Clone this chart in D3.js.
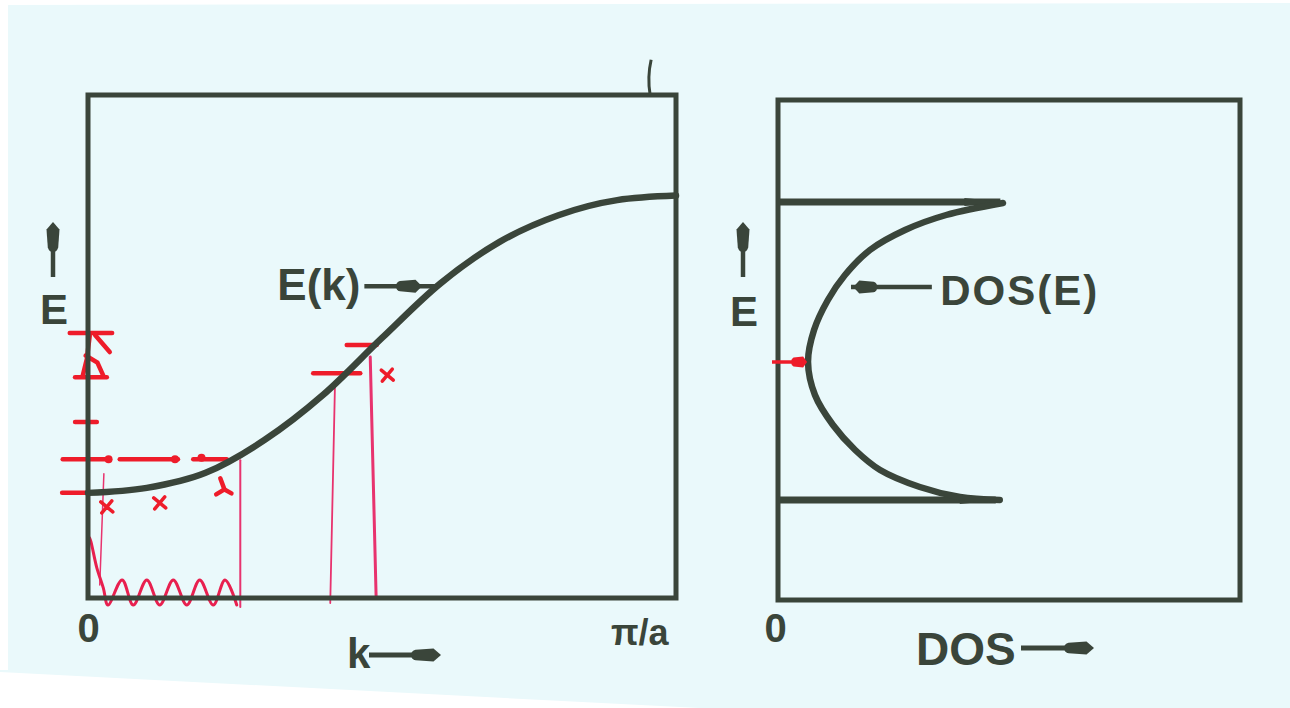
<!DOCTYPE html>
<html>
<head>
<meta charset="utf-8">
<title>E(k) and DOS(E)</title>
<script src="https://d3js.org/d3.v7.min.js"></script>
<style>
  body { margin: 0; background: #fff; }
  svg text { font-family: "Liberation Sans", Arial, sans-serif; font-weight: bold; fill: #3a453a; }
</style>
</head>
<body>
<svg id="chart"></svg>
<script>
// band dispersion, k in % of pi/a, E in % of the frame height
var kVals = [0, 10, 20, 30, 40, 50, 60, 70, 80, 90, 100];
var eVals = [20.9, 21.9, 24.9, 31.4, 40.4, 51.7, 62.6, 70.8, 76.1, 79.1, 80];

// density of states, from the top band edge down to the bottom one
var dosE   = [79.4, 77, 74, 70, 65, 60, 54, 47.6, 41, 35, 30, 26, 22.6, 20.6, 20];
var dosVal = [48.7, 36.4, 27.5, 19.9, 14.5, 10.8, 7.8, 6.5, 8.0, 11.9, 16.7, 22.1, 30.7, 39.4, 48];
var bandEdges = [79.6, 20];
var bandTips = [49, 48];

var kTicks = [0, 100];
var kTickLabels = ["0", "π/a"];
var dosTicks = [0];
var dosTickLabels = ["0"];

// red pen marks on the left panel (k %, E %)
var redDashes = [
  [-4.3, 3.7, 27.6], [5.4, 15.3, 27.6], [17.9, 23.6, 27.6],
  [-4.4, 2.0, 20.9], [-2.2, 1.5, 35],
  [-3.1, 4.1, 52.7], [-2.2, 3.2, 43.9],
  [38.3, 46.3, 44.7], [44, 49.1, 50.3]
];
var redDots = [[3.5, 27.6], [14.8, 27.6], [19.3, 27.9]];
var redCrosses = [[3.2, 18.1], [12.2, 18.9], [50.9, 44.3]];
var redDrops = [
  [2.7, 24.7, 2.0, 2.6],
  [25.9, 27.4, 25.9, -1.8],
  [42, 42.3, 41.2, -1.0],
  [48, 47.9, 49, 0.2]
];
var redDropWidths = [1.5, 2, 1.8, 3];
var redGlyph = [
  [[1.2, 52.3], [3.7, 48.9]],
  [[0.3, 52.2], [-0.2, 47.5], [-0.9, 44.2]],
  [[-0.4, 48.2], [1.6, 46.8], [2.6, 44.2]],
  [[22.5, 23.8], [23.2, 21.6], [24.4, 20.8]],
  [[23.2, 21.6], [21.8, 20.6]]
];
var redWave = [[0, 1.6], [0.2, 12.1], [1.5, 6], [2.6, 2], [3.4, -1.4], [5.8, 3.6], [7.7, -1.4], [10, 3.6],
               [12.2, -1.4], [14.5, 3.6], [16.8, -1.4], [19, 3.6], [21.3, -1.4], [23.3, 3.6], [25.3, -1.4]];
// red arrow on the DOS panel: [dos from, dos to, E]
var redArrowDos = [-1.3, 6.3, 47.6];

var width = 1290, height = 708;
var ink = "#3a453a", red = "#ee1c2a", pink = "#e8336e";

var svg = d3.select("#chart").attr("width", width).attr("height", height);

// scanned paper
svg.append("polygon")
    .attr("points", "8,5 1290,3 1290,708 700,708 0,672 0,670 8,670")
    .attr("fill", "#eaf9fb");

var xK = d3.scaleLinear().domain([0, 100]).range([88, 676]);
var yL = d3.scaleLinear().domain([0, 100]).range([598, 95]);
var xD = d3.scaleLinear().domain([0, 100]).range([778, 1240]);
var yR = d3.scaleLinear().domain([0, 100]).range([600, 100]);

function head(x, y, dir, len, w) {
    // pen arrow head, dir = 1 points right, -1 points left
    var a = x - dir * len * 0.25, b = x - dir * len * 0.85, c = x - dir * len;
    return "M" + x + "," + y +
        "L" + a + "," + (y - w / 2) +
        "L" + b + "," + (y - w * 0.4) +
        "Q" + c + "," + (y - w * 0.3) + " " + c + "," + y +
        "Q" + c + "," + (y + w * 0.3) + " " + b + "," + (y + w * 0.4) +
        "L" + a + "," + (y + w / 2) + "Z";
}

// ---- left panel ----
var left = svg.append("g");

var redG = left.append("g").attr("fill", "none").attr("stroke-linecap", "round");

redG.selectAll(".drop").data(redDrops).enter().append("line")
    .attr("x1", function(d) { return xK(d[0]); })
    .attr("y1", function(d) { return yL(d[1]); })
    .attr("x2", function(d) { return xK(d[2]); })
    .attr("y2", function(d) { return yL(d[3]); })
    .attr("stroke", pink)
    .attr("stroke-width", function(d, i) { return redDropWidths[i]; });

redG.append("path")
    .attr("d", d3.line().x(function(d) { return xK(d[0]); }).y(function(d) { return yL(d[1]); })
        .curve(d3.curveCatmullRom)(redWave))
    .attr("stroke", "#e8204f").attr("stroke-width", 3);

left.append("rect")
    .attr("x", xK(0)).attr("y", yL(100))
    .attr("width", xK(100) - xK(0)).attr("height", yL(0) - yL(100))
    .attr("fill", "none").attr("stroke", ink).attr("stroke-width", 5);

// small pen mark above the frame
left.append("path")
    .attr("d", "M" + xK(95.6) + "," + yL(100) + "Q" + (xK(95.6) - 3) + "," + yL(103.5) + " " + (xK(95.6) + 1) + "," + yL(107))
    .attr("fill", "none").attr("stroke", ink).attr("stroke-width", 3);

var eLine = d3.line()
    .x(function(d, i) { return xK(kVals[i]); })
    .y(function(d) { return yL(d); })
    .curve(d3.curveMonotoneX);

left.append("path")
    .attr("d", eLine(eVals))
    .attr("fill", "none").attr("stroke", ink).attr("stroke-width", 6.5)
    .attr("stroke-linecap", "round");

redG.selectAll(".dash").data(redDashes).enter().append("line")
    .attr("x1", function(d) { return xK(d[0]); })
    .attr("x2", function(d) { return xK(d[1]); })
    .attr("y1", function(d) { return yL(d[2]); })
    .attr("y2", function(d) { return yL(d[2]); })
    .attr("stroke", red).attr("stroke-width", 4.5);

redG.selectAll(".dot").data(redDots).enter().append("circle")
    .attr("cx", function(d) { return xK(d[0]); })
    .attr("cy", function(d) { return yL(d[1]); })
    .attr("r", 4).attr("fill", red);

redCrosses.forEach(function(c) {
    var cx = xK(c[0]), cy = yL(c[1]);
    redG.append("path")
        .attr("d", "M" + (cx - 6) + "," + (cy - 5) + "L" + (cx + 6) + "," + (cy + 5) +
                   "M" + (cx + 5) + "," + (cy - 6) + "L" + (cx - 5) + "," + (cy + 6))
        .attr("stroke", red).attr("stroke-width", 3.5);
});

redG.selectAll(".glyph").data(redGlyph).enter().append("path")
    .attr("d", d3.line().x(function(d) { return xK(d[0]); }).y(function(d) { return yL(d[1]); }))
    .attr("stroke", red).attr("stroke-width", 4.5);

// E(k) label with arrow to the curve
var ekE = 62;
left.append("line")
    .attr("x1", xK(47)).attr("x2", xK(59.5)).attr("y1", yL(ekE)).attr("y2", yL(ekE))
    .attr("stroke", ink).attr("stroke-width", 4.5);
left.append("path").attr("d", head(xK(56.8), yL(ekE), 1, 26, 13)).attr("fill", ink);
left.append("text").attr("x", xK(32.2)).attr("y", yL(59.3))
    .attr("font-size", 44).text("E(k)");

// axis
var gxL = left.append("g")
    .attr("transform", "translate(0," + yL(0) + ")")
    .call(d3.axisBottom(xK).tickValues(kTicks)
        .tickFormat(function(d, i) { return kTickLabels[i]; })
        .tickSize(0).tickPadding(16));
gxL.select(".domain").remove();
gxL.selectAll("text").style("font-size", "40px");
gxL.selectAll("text").filter(function(d) { return d === 100; })
    .style("font-size", "36px").attr("text-anchor", "end").attr("dx", -8).attr("y", 21);

left.append("text").attr("x", 347).attr("y", 668).attr("font-size", 42).text("k");
left.append("line").attr("x1", 369).attr("x2", 430).attr("y1", 655).attr("y2", 655)
    .attr("stroke", ink).attr("stroke-width", 5);
left.append("path").attr("d", head(441, 655, 1, 30, 13)).attr("fill", ink);

// vertical E arrow
function eArrow(g, x, yTip, yLetter) {
    g.append("line").attr("x1", x).attr("x2", x).attr("y1", yTip + 15).attr("y2", yTip + 55)
        .attr("stroke", ink).attr("stroke-width", 4.5);
    g.append("path").attr("d", head(-yTip, 0, 1, 30, 13))
        .attr("transform", "translate(" + x + ",0) rotate(-90)").attr("fill", ink);
    g.append("text").attr("x", x + 1).attr("y", yLetter).attr("text-anchor", "middle")
        .attr("font-size", 42).text("E");
}
eArrow(left, 53, 222, 324);

// ---- right panel ----
var right = svg.append("g");

right.append("rect")
    .attr("x", xD(0)).attr("y", yR(100))
    .attr("width", xD(100) - xD(0)).attr("height", yR(0) - yR(100))
    .attr("fill", "none").attr("stroke", ink).attr("stroke-width", 5);

right.selectAll(".edge").data(bandEdges).enter().append("line")
    .attr("x1", xD(0))
    .attr("x2", function(d, i) { return xD(bandTips[i]) - 4; })
    .attr("y1", function(d) { return yR(d); })
    .attr("y2", function(d) { return yR(d); })
    .attr("stroke", ink).attr("stroke-width", 7);

bandEdges.forEach(function(e, i) {
    var tx = xD(bandTips[i]), ty = yR(e);
    right.append("path")
        .attr("d", "M" + tx + "," + ty + "L" + (tx - 40) + "," + (ty - 4) + "L" + (tx - 40) + "," + (ty + 4) + "Z")
        .attr("fill", ink);
});

var dosLine = d3.line()
    .x(function(d, i) { return xD(dosVal[i]); })
    .y(function(d) { return yR(d); })
    .curve(d3.curveCatmullRom.alpha(0.5));

right.append("path")
    .attr("d", dosLine(dosE))
    .attr("fill", "none").attr("stroke", ink).attr("stroke-width", 6.5)
    .attr("stroke-linecap", "round");

// red arrow at the minimum
right.append("line")
    .attr("x1", xD(redArrowDos[0])).attr("x2", xD(redArrowDos[1]) - 6)
    .attr("y1", yR(redArrowDos[2])).attr("y2", yR(redArrowDos[2]))
    .attr("stroke", red).attr("stroke-width", 3.5);
right.append("path").attr("d", head(xD(redArrowDos[1]), yR(redArrowDos[2]), 1, 16, 11)).attr("fill", red);

// DOS(E) label with arrow to the curve
var deE = 62.6;
right.append("line")
    .attr("x1", xD(15.8)).attr("x2", xD(33.3)).attr("y1", yR(deE)).attr("y2", yR(deE))
    .attr("stroke", ink).attr("stroke-width", 4.5);
right.append("path").attr("d", head(xD(16.3), yR(deE), -1, 24, 13)).attr("fill", ink);
right.append("text").attr("x", xD(35.1)).attr("y", yR(59))
    .attr("font-size", 42).attr("letter-spacing", 2).text("DOS(E)");

var gxR = right.append("g")
    .attr("transform", "translate(0," + yR(0) + ")")
    .call(d3.axisBottom(xD).tickValues(dosTicks)
        .tickFormat(function(d, i) { return dosTickLabels[i]; })
        .tickSize(0).tickPadding(14));
gxR.select(".domain").remove();
gxR.selectAll("text").style("font-size", "40px").attr("dx", -3);

right.append("text").attr("x", 916).attr("y", 665).attr("font-size", 46).text("DOS");
right.append("line").attr("x1", 1021).attr("x2", 1080).attr("y1", 648).attr("y2", 648)
    .attr("stroke", ink).attr("stroke-width", 5);
right.append("path").attr("d", head(1094, 648, 1, 30, 13)).attr("fill", ink);

eArrow(right, 743, 222, 326);
</script>
</body>
</html>
